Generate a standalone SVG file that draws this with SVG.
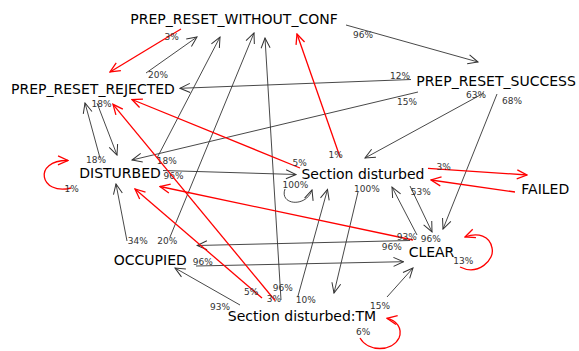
<svg xmlns="http://www.w3.org/2000/svg" width="579" height="351" viewBox="0 0 579 351">
<style>
.n{font-family:"DejaVu Sans",sans-serif;font-size:14px;fill:#000}
.l{font-family:"DejaVu Sans",sans-serif;font-size:9px;fill:#333}
.g{fill:none;stroke:#333;stroke-width:0.9;marker-end:url(#ag)}
.r{fill:none;stroke:#f00;stroke-width:1.3;marker-end:url(#ar)}
</style>
<defs>
<marker id="ag" viewBox="-11 -6 12 12" refX="0" refY="0" markerWidth="12" markerHeight="12" orient="auto" markerUnits="userSpaceOnUse"><path d="M-10,-4.5 L0,0 L-10,4.5" fill="none" stroke="#333" stroke-width="1"/></marker>
<marker id="ar" viewBox="-11 -6 12 12" refX="0" refY="0" markerWidth="12" markerHeight="12" orient="auto" markerUnits="userSpaceOnUse"><path d="M-10,-4.5 L0,0 L-10,4.5" fill="none" stroke="#f00" stroke-width="1.3"/></marker>
</defs>
<rect width="579" height="351" fill="#fff"/>
<g id="connectors">
<path class="g" d="M346,25 L478,62"/><text class="l" x="353" y="37.5">96%</text>
<path class="g" d="M146,73 L197,37"/><text class="l" x="148" y="77.5">20%</text>
<path class="g" d="M157,158 L220,37"/><text class="l" x="156.7" y="164">18%</text>
<path class="g" d="M170,237 L254,33"/><text class="l" x="157.3" y="244">20%</text>
<path class="g" d="M281,300 L265,38"/><text class="l" x="272.7" y="290.5">96%</text>
<path class="g" d="M411,79.5 L180,88.3"/><text class="l" x="390" y="78.5">12%</text>
<path class="g" d="M418,92 L132,160"/><text class="l" x="397" y="104.5">15%</text>
<path class="g" d="M484,93 L365,158"/><text class="l" x="466" y="98">63%</text>
<path class="g" d="M497,94 L443,229"/><text class="l" x="502" y="103.5">68%</text>
<path class="g" d="M97,103 L117,155"/><text class="l" x="91.5" y="107">18%</text>
<path class="g" d="M100,158 L85,103"/><text class="l" x="86" y="162.5">18%</text>
<path class="g" d="M163,170.5 L296,174.5"/><text class="l" x="163.5" y="179">96%</text>
<path class="g" d="M285,189 C279,205 306,208 312,190"/><text class="l" x="282.5" y="188">100%</text>
<path class="g" d="M358,192 L334,293"/><text class="l" x="354" y="192">100%</text>
<path class="g" d="M410,186 L432,232"/><text class="l" x="410.7" y="194.5">53%</text>
<path class="g" d="M417,235 L392,187"/><text class="l" x="420.7" y="241.5">96%</text>
<path class="g" d="M410,240.5 L197,245.5"/><text class="l" x="381.7" y="250">96%</text>
<path class="g" d="M196,266 L403.5,261.7"/><text class="l" x="192.7" y="265">96%</text>
<path class="g" d="M127,241 L116,184"/><text class="l" x="127.7" y="244">34%</text>
<path class="g" d="M240,305 L175,268"/><text class="l" x="210" y="309.5">93%</text>
<path class="g" d="M387,297 L413,268"/><text class="l" x="370" y="309">15%</text>
<path class="g" d="M298,296 L327.5,189.5"/><text class="l" x="295.7" y="303">10%</text>
<path class="r" d="M181,29 L110,72"/><text class="l" x="164.5" y="39.5">3%</text>
<path class="r" d="M340,157 L297,34"/><text class="l" x="328.5" y="158">1%</text>
<path class="r" d="M300,168 L132,99.5"/><text class="l" x="292.5" y="166">5%</text>
<path class="r" d="M71,188 C40,196 32,160 68,160.5"/><text class="l" x="64.5" y="191.5">1%</text>
<path class="r" d="M413,240 L160,186.5"/><text class="l" x="396.7" y="240">93%</text>
<path class="r" d="M460,267 C478,276 495,260 492,248 C490,236 478,232 465,237"/><text class="l" x="453.3" y="263.5">13%</text>
<path class="r" d="M428,168.3 L527,175"/><text class="l" x="436.5" y="170">3%</text>
<path class="r" d="M515,192 L431,180"/>
<path class="r" d="M262,298 L135,189"/><text class="l" x="244" y="294.5">5%</text>
<path class="r" d="M275,300.5 L113,104.3"/><text class="l" x="266.7" y="301.5">3%</text>
<path class="r" d="M360,338 C368,352 392,352 399,338 C403,328 396,320 387,318.3"/><text class="l" x="356" y="335">6%</text>
</g>
<g id="PREP_RESET_WITHOUT_CONF"><text class="n" x="234" y="23.5" text-anchor="middle">PREP_RESET_WITHOUT_CONF</text></g>
<g id="PREP_RESET_REJECTED"><text class="n" x="93" y="93.5" text-anchor="middle">PREP_RESET_REJECTED</text></g>
<g id="PREP_RESET_SUCCESS"><text class="n" x="496" y="85.5" text-anchor="middle">PREP_RESET_SUCCESS</text></g>
<g id="DISTURBED"><text class="n" x="120" y="178.3" text-anchor="middle">DISTURBED</text></g>
<g id="Section_disturbed"><text class="n" x="363" y="179" text-anchor="middle">Section disturbed</text></g>
<g id="FAILED"><text class="n" x="545.3" y="194" text-anchor="middle">FAILED</text></g>
<g id="OCCUPIED"><text class="n" x="150.3" y="265" text-anchor="middle">OCCUPIED</text></g>
<g id="CLEAR"><text class="n" x="431.5" y="257.3" text-anchor="middle">CLEAR</text></g>
<g id="Section_disturbed_TM"><text class="n" x="302" y="321" text-anchor="middle">Section disturbed:TM</text></g>
</svg>
